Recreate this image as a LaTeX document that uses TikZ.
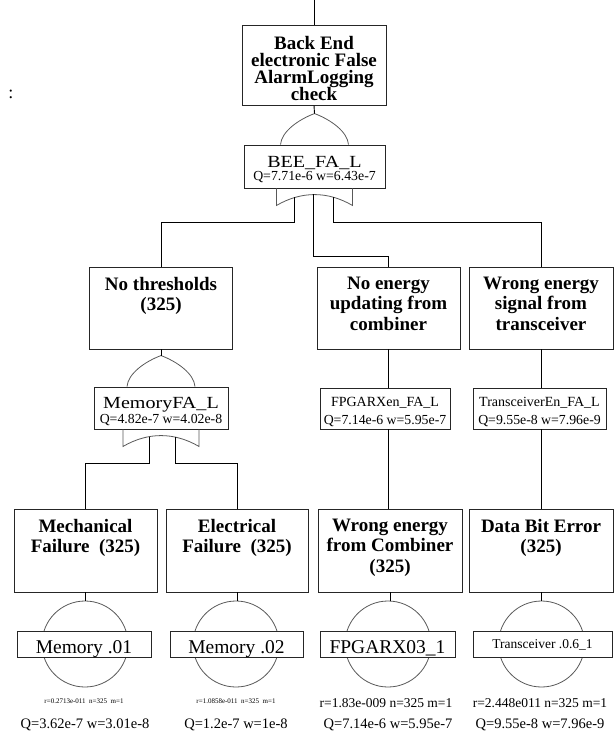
\documentclass[tikz,border=0pt]{standalone}
\usepackage{fontspec}
\setmainfont{Liberation Serif}
\newfontfamily\widefont[FakeStretch=1.18]{Liberation Serif}
\usetikzlibrary{calc}

\tikzset{
  evbox/.style={draw=black!85,fill=white,line width=0.9pt,inner sep=0pt,
    minimum width=143pt,minimum height=82pt},
  boxtext/.style={anchor=north,inner sep=0pt,align=center,yshift=-10pt,
    font={\bfseries\fontsize{19}{20.5}\selectfont\lineskiplimit=-20pt}},
  gatebox/.style={draw=black!85,fill=white,line width=0.9pt,inner sep=0pt,
    minimum height=42pt},
  gname/.style={anchor=base,inner sep=0pt,font={\widefont\fontsize{17}{17}\selectfont}},
  sname/.style={anchor=base,inner sep=0pt,font={\fontsize{14}{14}\selectfont}},
  qtext/.style={anchor=base,inner sep=0pt,font={\fontsize{14.5}{14.5}\selectfont}},
  gq/.style={anchor=base,inner sep=0pt,font={\fontsize{13.8}{13.8}\selectfont}},
  basebox/.style={draw=black!85,fill=white,line width=0.9pt,inner sep=0pt,
    minimum height=26pt},
  basetext/.style={anchor=base,inner sep=0pt,font={\fontsize{19.5}{19.5}\selectfont}},
  rtiny/.style={anchor=base,inner sep=0pt,font={\fontsize{7}{7}\selectfont}},
  evcirc/.style={circle,draw=black!65,line width=0.8pt,minimum size=86pt,inner sep=0pt},
  gateline/.style={draw=black!65,line width=0.8pt},
  ortop/.pic={
    \draw[gateline] (-34,0) .. controls (-33,-13) and (-16,-25) .. (0,-31) coordinate (-in)
      .. controls (16,-25) and (33,-13) .. (34,0);},
  orbot/.pic={
    \draw[gateline] (-38,0) -- (-38,17) .. controls (-13,2.5) and (13,2.5) .. (38,17) -- (38,0);}
}

\begin{document}
\begin{tikzpicture}[x=1pt,y=-1pt,line width=0.9pt]
\useasboundingbox (0,0) rectangle (615,734);
\node[anchor=base,inner sep=0pt,font={\fontsize{18}{18}\selectfont}] (colon) at (11,98) {:};
% ---------- top event ----------
\coordinate (feed) at (314,0);
\node[evbox,minimum width=144pt,minimum height=80pt] (top) at (314,65) {};
\node[boxtext,yshift=-1pt,font={\bfseries\fontsize{19}{17.2}\selectfont\lineskiplimit=-20pt}] (topT) at (top.north)
  {Back End\\electronic False\\AlarmLogging\\check};
\draw (feed) -- (top.north);
% ---------- OR gate BEE_FA_L ----------
\node[gatebox,minimum width=141pt,minimum height=43pt] (bee) at (314.5,166.5) {};
\pic (beeg) at (bee.north) {ortop};
\pic at (bee.south) {orbot};
\node[gname] (beeN) at ($(bee.center)+(0,1)$) {BEE\_FA\_L};
\node[gq] (beeQ) at ($(bee.center)+(0,14)$) {Q=7.71e-6 w=6.43e-7};
\draw (top.south) -- (beeg-in);
\coordinate (beeL) at ($(bee.south)+(-20.5,9)$);
\coordinate (beeM) at ($(bee.south)+(-1.5,6)$);
\coordinate (beeR) at ($(bee.south)+(18.5,9)$);
\coordinate (bus1) at (0,222);
\coordinate (bus2) at (0,256);
% ---------- row 2 ----------
\node[evbox] (nothr) at (161,308) {};
\node[boxtext] (nothrT) at (nothr.north) {No thresholds\\(325)};
\node[evbox] (noen) at (388.5,308) {};
\node[boxtext] (noenT) at (noen.north) {No energy\\updating from\\combiner};
\node[evbox,minimum width=144pt] (wrsig) at (541,308) {};
\node[boxtext] (wrsigT) at (wrsig.north) {Wrong energy\\signal from\\transceiver};
\draw (beeL) -- (beeL |- bus1) -| (nothr.north);
\draw (beeM) -- (beeM |- bus2) -| (noen.north);
\draw (beeR) -- (beeR |- bus1) -| (wrsig.north);
% ---------- row 3 ----------
\node[gatebox,minimum width=134pt] (memfa) at (161,408) {};
\pic (memg) at (memfa.north) {ortop};
\pic at (memfa.south) {orbot};
\node[gname] (memN) at ($(memfa.center)+(0,0.5)$) {MemoryFA\_L};
\node[gq] (memQ) at ($(memfa.center)+(0,15)$) {Q=4.82e-7 w=4.02e-8};
\draw (nothr.south) -- (memg-in);
\node[gatebox,minimum width=130pt,minimum height=41pt] (fpgafa) at (385,408.5) {};
\node[sname] (fpgaN) at ($(fpgafa.center)+(0,-2.5)$) {FPGARXen\_FA\_L};
\node[gq] (fpgaQ) at ($(fpgafa.center)+(0,15.5)$) {Q=7.14e-6 w=5.95e-7};
\draw (noen.south) -- (noen.south |- fpgafa.north);
\node[gatebox,minimum width=133pt,minimum height=41pt] (trxfa) at (539.5,408.5) {};
\node[sname] (trxN) at ($(trxfa.center)+(0,-2.5)$) {TransceiverEn\_FA\_L};
\node[gq] (trxQ) at ($(trxfa.center)+(0,15.5)$) {Q=9.55e-8 w=7.96e-9};
\draw (wrsig.south) -- (wrsig.south |- trxfa.north);
\coordinate (memL) at ($(memfa.south)+(-12,7.5)$);
\coordinate (memR) at ($(memfa.south)+(14,7.5)$);
\coordinate (bus3) at (0,463);
% ---------- row 4 ----------
\node[evbox,minimum height=83pt] (mech) at (85.5,550.5) {};
\node[boxtext] (mechT) at (mech.north) {Mechanical\\Failure\ \ (325)};
\node[evbox,minimum width=142pt,minimum height=83pt] (elec) at (237,550.5) {};
\node[boxtext] (elecT) at (elec.north) {Electrical\\Failure\ \ (325)};
\node[evbox,minimum width=144pt,minimum height=83pt] (wrcomb) at (390,550.5) {};
\node[boxtext] (wrcombT) at (wrcomb.north) {Wrong energy\\from Combiner\\(325)};
\node[evbox,minimum width=144pt,minimum height=83pt] (dbe) at (541,550.5) {};
\node[boxtext] (dbeT) at (dbe.north) {Data Bit Error\\(325)};
\draw (memL) -- (memL |- bus3) -| (mech.north);
\draw (memR) -- (memR |- bus3) -| (elec.north);
\draw (noen.south |- fpgafa.south) -- (noen.south |- wrcomb.north);
\draw (wrsig.south |- trxfa.south) -- (wrsig.south |- dbe.north);
% ---------- basic events ----------
\node[evcirc] (mechC) at (85,644) {};
\node[evcirc] (elecC) at (236,644) {};
\node[evcirc] (wrcombC) at (388,644) {};
\node[evcirc] (dbeC) at (541.5,644) {};
\draw (mech.south) -- (mech.south |- mechC.north);
\draw (elec.south) -- (elec.south |- elecC.north);
\draw (wrcomb.south) -- (wrcomb.south |- wrcombC.north);
\draw (dbe.south) -- (dbe.south |- dbeC.north);
\node[basebox,minimum width=134pt] (mem01) at (84,644) {};
\node[basetext] (mem01T) at ($(mem01.center)+(0,9)$) {Memory .01};
\node[basebox,minimum width=133pt] (mem02) at (236.5,644) {};
\node[basetext] (mem02T) at ($(mem02.center)+(0,9)$) {Memory .02};
\node[basebox,minimum width=135pt] (fpx) at (387.5,644) {};
\node[basetext] (fpxT) at ($(fpx.center)+(0,9)$) {FPGARX03\_1};
\node[basebox,minimum width=139pt] (trx) at (542.5,644) {};
\node[sname,font={\fontsize{13.5}{13.5}\selectfont}] (trxT) at ($(trx.center)+(0,4)$) {Transceiver .0.6\_1};
% ---------- parameters ----------
\node[rtiny] (mechR) at (84,703) {r=0.2713e-011\ \ n=325\ \ m=1};
\node[rtiny] (elecR) at (236,703) {r=1.0858e-011\ \ n=325\ \ m=1};
\node[qtext,font={\fontsize{13.5}{13.5}\selectfont}] (wrcombR) at (386,707) {r=1.83e-009 n=325 m=1};
\node[qtext,font={\fontsize{13.5}{13.5}\selectfont}] (dbeR) at (540,707) {r=2.448e011 n=325 m=1};
\node[qtext] (mechQ) at (85,728) {Q=3.62e-7 w=3.01e-8};
\node[qtext] (elecQ) at (236,728) {Q=1.2e-7 w=1e-8};
\node[qtext] (wrcombQ) at (388,728) {Q=7.14e-6 w=5.95e-7};
\node[qtext] (dbeQ) at (540,728) {Q=9.55e-8 w=7.96e-9};
\end{tikzpicture}
\end{document}
